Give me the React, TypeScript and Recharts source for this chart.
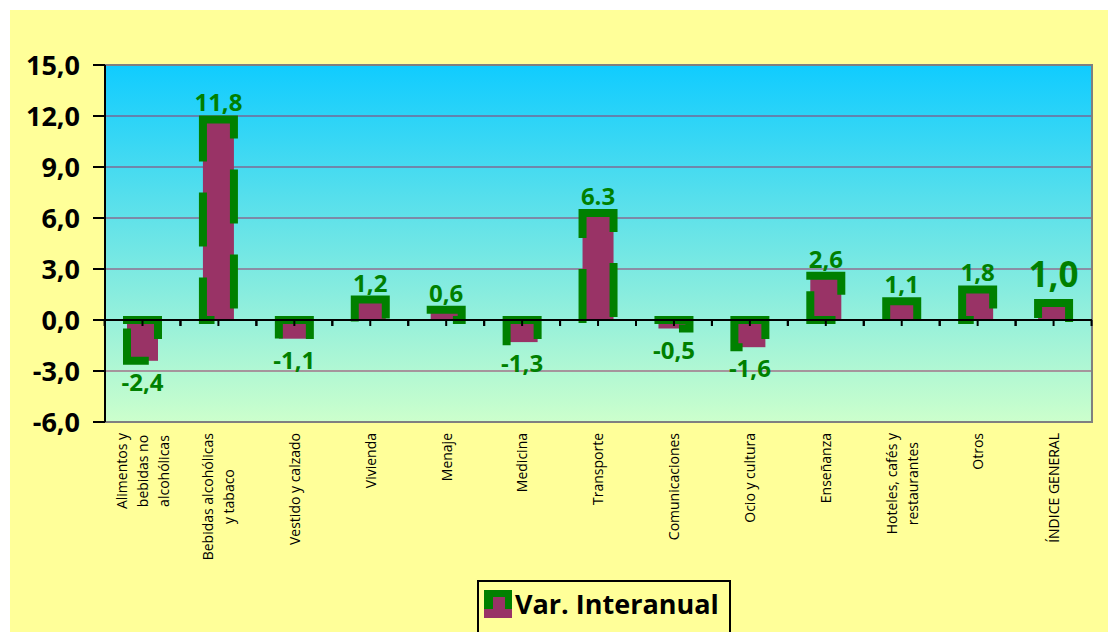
import React from 'react';
import * as Recharts from 'recharts';
import { Bar, BarChart, CartesianGrid, LabelList, ReferenceArea, ReferenceLine, XAxis, YAxis } from 'recharts';

const categories = [
  'Alimentos y bebidas no alcohólicas',
  'Bebidas alcohólicas y tabaco',
  'Vestido y calzado',
  'Vivienda',
  'Menaje',
  'Medicina',
  'Transporte',
  'Comunicaciones',
  'Ocio y cultura',
  'Enseñanza',
  'Hoteles, cafés y restaurantes',
  'Otros',
  'ÍNDICE GENERAL',
];

// how each category label wraps on the axis
const categoryLines = [
  ['Alimentos y', 'bebidas no', 'alcohólicas'],
  ['Bebidas alcohólicas', 'y tabaco'],
  ['Vestido y calzado'],
  ['Vivienda'],
  ['Menaje'],
  ['Medicina'],
  ['Transporte'],
  ['Comunicaciones'],
  ['Ocio y cultura'],
  ['Enseñanza'],
  ['Hoteles, cafés y', 'restaurantes'],
  ['Otros'],
  ['ÍNDICE GENERAL'],
];

const interanual = [-2.4, 11.8, -1.1, 1.2, 0.6, -1.3, 6.3, -0.5, -1.6, 2.6, 1.1, 1.8, 1.0];
const valueLabels = ['-2,4', '11,8', '-1,1', '1,2', '0,6', '-1,3', '6.3', '-0,5', '-1,6', '2,6', '1,1', '1,8', '1,0'];
const yTicks = [-6, -3, 0, 3, 6, 9, 12, 15];

const data = categories.map((name, i) => ({ name, value: interanual[i] }));

const GREEN = '#008000';
const MAROON = '#993366';
const FONT = '"Open Sans", sans-serif';
const BAR_SIZE = 31;

const usePlotAreaSafe: () => any = (Recharts as any).usePlotArea || (() => null);

const canvas = typeof document !== 'undefined' ? document.createElement('canvas').getContext('2d') : null;
function textWidth(s: string) {
  if (!canvas) return s.length * 7;
  canvas.font = `14px ${FONT}`;
  return canvas.measureText(s).width;
}

function CategoryTick({ x, y, payload }: any) {
  const lines = categoryLines[payload.index] || [String(payload.value)];
  const w = Math.max(...lines.map(textWidth));
  const mid = 3 + w / 2;
  return (
    <g transform={`translate(${x},${y})`}>
      <text transform="rotate(-90)" textAnchor="middle" fontFamily={FONT} fontSize={14} fill="#000">
        {lines.map((l, i) => (
          <tspan key={i} x={-mid} y={(i - (lines.length - 1) / 2) * 21} dy="0.35em">
            {l}
          </tspan>
        ))}
      </text>
    </g>
  );
}

function DashedBar(props: any) {
  const { x, y, width, height } = props;
  const plot = usePlotAreaSafe();
  const band = plot && plot.width ? plot.width / categories.length : width / 0.408;
  const top = Math.min(y, y + height);
  const h = Math.abs(height);
  const base = y + height; // zero line
  const cx = x + width / 2;
  const ticks = [cx - band / 2, cx, cx + band / 2];
  return (
    <g>
      <rect x={x} y={top} width={width} height={h} fill={MAROON} />
      <path
        d={`M ${x},${top} h ${width} v ${h} h ${-width} Z`}
        fill="none"
        stroke={GREEN}
        strokeWidth={8}
        strokeDasharray="46 39"
        strokeLinecap="square"
      />
      {ticks.map((t, i) => (
        <line key={i} x1={t} x2={t} y1={base} y2={base + 6} stroke="#000" strokeWidth={2} />
      ))}
    </g>
  );
}

function ValueLabel(props: any) {
  const { x, y, width, height, index } = props;
  const top = Math.min(y, y + height);
  const bottom = Math.max(y, y + height);
  const big = index === categories.length - 1;
  const positive = interanual[index] >= 0;
  const ty = positive ? top - (big ? 16 : 8) : bottom + 30;
  return (
    <text
      x={x + width / 2}
      y={ty}
      textAnchor="middle"
      fontFamily={FONT}
      fontWeight={700}
      fontSize={big ? 35 : 24}
      fill={GREEN}
    >
      {valueLabels[index]}
    </text>
  );
}

export default function App() {
  return (
    <div style={{ position: 'absolute', left: 0, top: 0, width: 1108, height: 632, background: '#fff', overflow: 'hidden' }}>
      <div style={{ position: 'absolute', left: 10, top: 10, right: 0, bottom: 0, background: '#FFFF99' }} />
      <div style={{ position: 'absolute', left: 0, top: 0 }}>
        <BarChart width={1108} height={632} data={data} margin={{ top: 65, right: 16, bottom: 60, left: 10 }}>
          <defs>
            <linearGradient id="plotBg" x1="0" y1="0" x2="0" y2="1">
              <stop offset="0%" stopColor="#10CCFF" />
              <stop offset="100%" stopColor="#CCFFCC" />
            </linearGradient>
          </defs>
          <CartesianGrid vertical={false} stroke={MAROON} strokeWidth={1.2} fill="url(#plotBg)" fillOpacity={1} />
          <ReferenceArea y1={-6} y2={15} fill="none" stroke="#808080" strokeWidth={2} ifOverflow="visible" />
          <XAxis
            dataKey="name"
            interval={0}
            height={150}
            axisLine={false}
            tickLine={false}
            tick={<CategoryTick />}
          />
          <YAxis
            domain={[-6, 15]}
            ticks={yTicks}
            width={95}
            interval={0}
            tickSize={12}
            tickMargin={13}
            axisLine={{ stroke: '#000', strokeWidth: 2 }}
            tickLine={{ stroke: '#000', strokeWidth: 2 }}
            tickFormatter={(v: number) => v.toFixed(1).replace('.', ',')}
            tick={{ fill: '#000', fontFamily: FONT, fontWeight: 700, fontSize: 27 }}
          />
          <Bar dataKey="value" barSize={BAR_SIZE} shape={<DashedBar />} isAnimationActive={false}>
            <LabelList dataKey="value" content={<ValueLabel />} />
          </Bar>
          <ReferenceLine y={0} stroke="#000" strokeWidth={2} />
        </BarChart>
      </div>
      <div
        style={{
          position: 'absolute',
          left: 477,
          top: 580,
          width: 254,
          height: 70,
          border: '2px solid #000',
          boxSizing: 'border-box',
          display: 'flex',
          alignItems: 'flex-start',
          paddingTop: 6,
          paddingLeft: 5,
        }}
      >
        <svg width={28} height={28} style={{ marginTop: 2 }}>
          <rect x={0} y={0} width={28} height={28} fill={GREEN} />
          <rect x={9} y={7} width={19} height={21} fill={MAROON} />
          <rect x={0} y={19} width={9} height={9} fill={MAROON} />
          <rect x={21} y={7} width={7} height={12} fill={GREEN} />
        </svg>
        <span style={{ fontFamily: FONT, fontWeight: 700, fontSize: 27, color: '#000', marginLeft: 3, lineHeight: '32px' }}>
          Var. Interanual
        </span>
      </div>
    </div>
  );
}
